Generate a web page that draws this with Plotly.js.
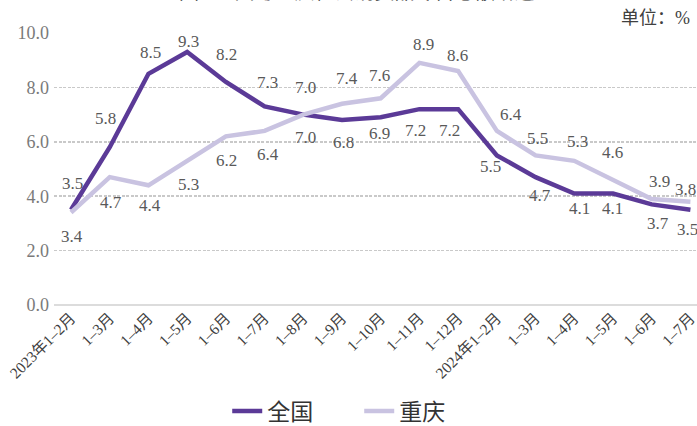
<!DOCTYPE html>
<html>
<head>
<meta charset="utf-8">
<script src="https://cdn.plot.ly/plotly-3.0.1.min.js"></script>
<style>
html,body{margin:0;padding:0;background:#fff;}
#chart{width:697px;height:426px;}
</style>
</head>
<body>
<div id="chart"></div>
<script>
// ---- data ----
var categories = ["2023年1–2月","1–3月","1–4月","1–5月","1–6月","1–7月","1–8月","1–9月","1–10月","1–11月","1–12月","2024年1–2月","1–3月","1–4月","1–5月","1–6月","1–7月"];
var nationalName = "全国";
var chongqingName = "重庆";
var nationalValues = [3.5,5.8,8.5,9.3,8.2,7.3,7.0,6.8,6.9,7.2,7.2,5.5,4.7,4.1,4.1,3.7,3.5];
var chongqingValues = [3.4,4.7,4.4,5.3,6.2,6.4,7.0,7.4,7.6,8.9,8.6,6.4,5.5,5.3,4.6,3.9,3.8];
var yTickValues = [0,2,4,6,8,10];
var titleText = "图1 全国与重庆社会消费品零售总额增速";
var unitText = "单位：%";

// ---- label offsets (pixels, style only) ----
var natDx = [1,-4,2,1,1,3,2,1,-1,-4,-9,-6,4,5,-1,6,-3];
var natDy = [-26,-29,-21,-11,-27,-24,-27,22,16,21,21,11,18,15,15,19,20];
var cqDx  = [1,1,2,1,1,3,2,5,-1,4,-1,14,2,3,-1,8,-5];
var cqDy  = [24,25,20,24,24,24,23,-25,-23,-18,-16,-16,-17,-19,-27,-17,-12];

var darkPurple = "#5b3a97";
var lightPurple = "#c9c3e1";
var serif = "Liberation Serif, Times New Roman, Noto Sans CJK SC, serif";
var labelColor = "#595959";

var idx = categories.map(function(_, i){ return i; });

var traces = [
  {x: idx, y: nationalValues, name: nationalName, type: "scatter", mode: "lines",
   line: {color: darkPurple, width: 4.5}, hoverinfo: "skip"},
  {x: idx, y: chongqingValues, name: chongqingName, type: "scatter", mode: "lines",
   line: {color: lightPurple, width: 4.5}, hoverinfo: "skip"}
];

var annotations = [];
function addLabels(vals, dx, dy){
  vals.forEach(function(v, i){
    annotations.push({x: i, y: v, xref: "x", yref: "y", text: v.toFixed(1),
      showarrow: false, xshift: dx[i], yshift: -dy[i],
      font: {family: serif, size: 17, color: labelColor}});
  });
}
addLabels(nationalValues, natDx, natDy);
addLabels(chongqingValues, cqDx, cqDy);

annotations.push({text: unitText, xref: "paper", yref: "paper", x: 1, y: 1.055,
  xanchor: "right", yanchor: "middle", showarrow: false, xshift: -5,
  font: {family: serif, size: 18, color: "#404040"}});
annotations.push({text: titleText, xref: "paper", yref: "paper", x: 0.471, y: 1.158,
  xanchor: "center", yanchor: "middle", showarrow: false,
  font: {family: "Noto Sans CJK SC, sans-serif", size: 20, color: "#262626"}});

var layout = {
  width: 697, height: 426,
  margin: {l: 54, r: 0, t: 33, b: 121, pad: 0},
  paper_bgcolor: "#ffffff", plot_bgcolor: "#ffffff",
  showlegend: true,
  legend: {orientation: "h", xref: "container", yref: "container", x: 0.326, y: 0.035,
    xanchor: "left", yanchor: "middle", itemwidth: 30, entrywidth: 87, entrywidthmode: "pixels",
    font: {family: "Noto Sans CJK SC, sans-serif", size: 23, color: "#333333"}},
  xaxis: {
    range: [-0.44, 16.17], tickmode: "array", tickvals: idx, ticktext: categories,
    tickangle: -45, showgrid: false, zeroline: false, showline: false, ticks: "",
    ticklabeloverflow: "allow",
    tickfont: {family: serif, size: 15.5, color: "#404040"}, fixedrange: true
  },
  yaxis: {
    range: [0, 10], tickmode: "array", tickvals: yTickValues,
    ticktext: yTickValues.map(function(v){ return v.toFixed(1); }),
    showgrid: true, gridcolor: "#c9c9c9", gridwidth: 1.5, griddash: "3px,1.5px",
    zeroline: true, zerolinecolor: "#dcdcdc", zerolinewidth: 2,
    showline: false, ticks: "", ticklabelstandoff: 4,
    tickfont: {family: serif, size: 18, color: "#7a7a7a"}, fixedrange: true
  },
  annotations: annotations
};

Plotly.newPlot("chart", traces, layout, {displayModeBar: false, staticPlot: true});
</script>
</body>
</html>
